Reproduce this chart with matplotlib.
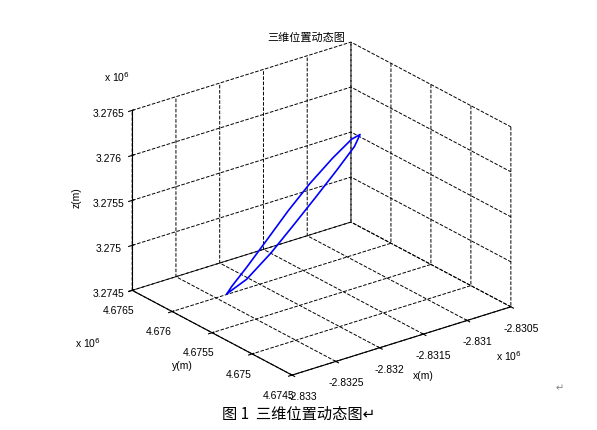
import matplotlib
matplotlib.use("Agg")
import matplotlib.pyplot as plt
import numpy as np

plt.rcParams['font.family'] = ['Liberation Sans', 'Noto Sans CJK SC', 'DejaVu Sans']

# trajectory points (in units of 1e6)
xs = [-2.83273, -2.83255, -2.83230, -2.83205, -2.83180, -2.83155, -2.83132, -2.83120,
      -2.83125, -2.83145, -2.83170, -2.83195, -2.83220, -2.83245, -2.83265, -2.83273]
ys = [4.67561, 4.67556, 4.67553, 4.67552, 4.67552, 4.67553, 4.67556, 4.67562,
      4.67567, 4.67569, 4.67570, 4.67570, 4.67569, 4.67567, 4.67564, 4.67561]
zs = [3.27480, 3.27493, 3.27516, 3.27540, 3.27563, 3.27585, 3.27603, 3.27610,
      3.27604, 3.27588, 3.27567, 3.27544, 3.27520, 3.27498, 3.27484, 3.27480]

xticks = [-2.833, -2.8325, -2.832, -2.8315, -2.831, -2.8305]
yticks = [4.6745, 4.675, 4.6755, 4.676, 4.6765]
zticks = [3.2745, 3.275, 3.2755, 3.276, 3.2765]

fig = plt.figure(figsize=(5.97, 4.30), dpi=100)
ax = fig.add_axes([0.07, 0.063, 0.92, 0.88], projection='3d', proj_type='ortho')
ax.plot(xs, ys, zs, color='#0000ff', lw=1.2)
ax.view_init(elev=24, azim=-127.5)
ax.set_box_aspect((1.05, 1.0, 0.75), zoom=1.1)
ax.set_xlim(xticks[0], xticks[-1])
ax.set_ylim(yticks[0], yticks[-1])
ax.set_zlim(zticks[0], zticks[-1])
ax.set_xticks(xticks)
ax.set_yticks(yticks)
ax.set_zticks(zticks)
ax.set_xticklabels([f'{v:g}' for v in xticks])
ax.set_yticklabels([f'{v:g}' for v in yticks])
ax.set_zticklabels([f'{v:g}' for v in zticks])
for a in (ax.xaxis, ax.yaxis, ax.zaxis):
    a.set_pane_color((1, 1, 1, 0))
    a.pane.set_edgecolor('black')
    a._axinfo['grid'].update(color='black', linestyle='--', linewidth=0.7)
    a.line.set_color('black')
ax.tick_params(labelsize=7.5, pad=1)
ax.set_xlabel('x(m)', fontsize=7.5, labelpad=-2)
ax.set_ylabel('y(m)', fontsize=7.5, labelpad=-2)
ax.zaxis.set_rotate_label(False)
ax.set_zlabel('z(m)', fontsize=7.5, labelpad=0, rotation=90)
fig.text(0.513, 0.905, '三维位置动态图', fontsize=8, ha='center')

fig.text(0.175, 0.81, r'x 10$^6$', fontsize=7.5)
fig.text(0.125, 0.19, r'x 10$^6$', fontsize=7.5)
fig.text(0.83, 0.16, r'x 10$^6$', fontsize=7.5)
fig.text(0.93, 0.09, '↵', fontsize=7, color='gray', family='DejaVu Sans')
fig.text(0.5, 0.025, '图 1  三维位置动态图↵', fontsize=11, ha='center',
         family=['Noto Sans CJK SC', 'DejaVu Sans'])

fig.savefig('out.png')
